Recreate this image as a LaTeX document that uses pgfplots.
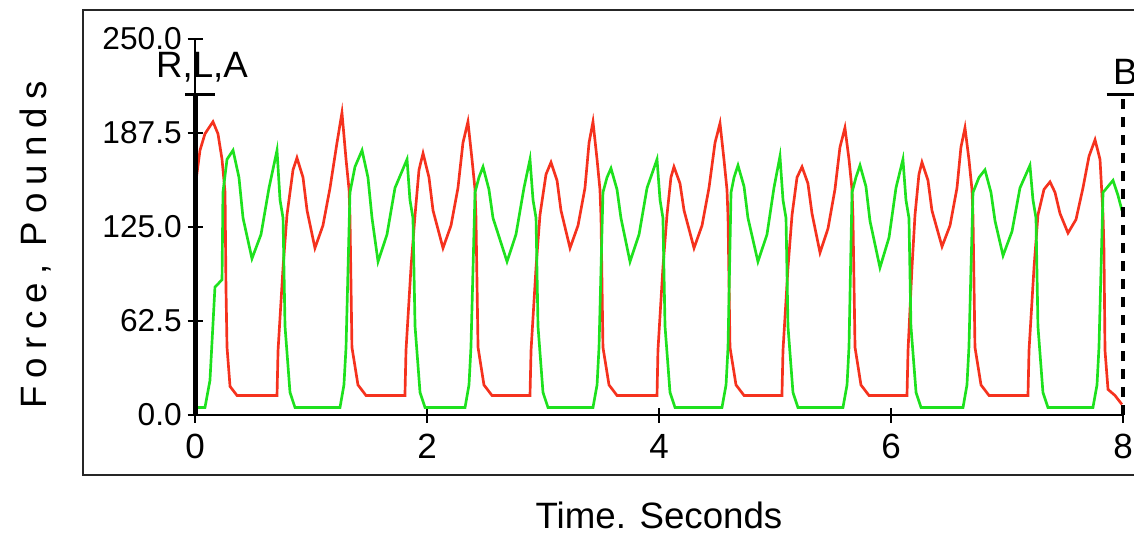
\documentclass[border=0pt]{standalone}
\usepackage{pgfplots}
\pgfplotsset{compat=1.18}
\usepackage{fontspec}
\setmainfont{Liberation Sans}
\definecolor{fred}{RGB}{245,50,30}
\definecolor{fgreen}{RGB}{30,225,30}

\begin{document}
\begin{tikzpicture}
% picture area, 1 px of the reference = 0.3pt
\path[use as bounding box, clip] (0,0) rectangle (340.2pt,161.1pt);
\draw[line width=0.8pt, black!85] (24.9pt,158.1pt) rectangle (343.5pt,18.6pt);
\begin{axis}[
    at={(58.5pt,36.6pt)}, anchor=south west,
    scale only axis,
    width=278.4pt, height=112.8pt,
    xmin=0, xmax=8, ymin=0, ymax=250,
    axis lines*=left,
    axis line style={line width=0.8pt, black},
    xtick={0,2,4,6,8},
    ytick={0,62.5,125,187.5,250},
    yticklabels={0.0,62.5,125.0,187.5,250.0},
    tick align=center,
    major tick length=4.5pt,
    tick style={line width=0.6pt, black},
    /pgf/number format/assume math mode=true,
    xticklabel style={font=\fontsize{10.5}{12}\selectfont},
    yticklabel style={font=\fontsize{9.5}{11}\selectfont, xshift=1.8pt},
    xlabel={Time. Seconds},
    ylabel={Force, Pounds},
    xlabel style={at={(axis description cs:0.5,-0.266)}, anchor=center, font=\fontsize{11}{13}\selectfont},
    ylabel style={at={(axis description cs:-0.172,0.452)}, anchor=center, font=\fontsize{11}{13}\selectfont\addfontfeature{LetterSpace=22}},
    clip=false,
]
% red trace
\addplot[fred, line width=0.8pt, mark=none] coordinates {
(0.009,156) (0.043,176) (0.086,187) (0.155,195) (0.198,187) (0.233,170) (0.259,148) (0.267,85) (0.276,45) (0.302,19) (0.362,13)
(0.707,13) (0.716,43) (0.759,98) (0.793,133) (0.845,163) (0.879,171) (0.931,158) (0.966,136) (1.034,111) (1.103,126) (1.164,151) (1.224,181) (1.267,201) (1.302,170) (1.328,150) (1.336,132) (1.353,45) (1.405,20) (1.474,13)
(1.810,13) (1.819,43) (1.862,98) (1.897,133) (1.931,163) (1.966,174) (2.017,158) (2.052,136) (2.138,111) (2.207,126) (2.267,151) (2.310,181) (2.353,195) (2.388,170) (2.414,150) (2.422,132) (2.440,45) (2.491,20) (2.560,13)
(2.888,13) (2.897,43) (2.940,98) (2.974,133) (3.026,160) (3.069,168) (3.121,156) (3.155,136) (3.233,111) (3.302,126) (3.362,151) (3.397,181) (3.431,195) (3.466,170) (3.491,150) (3.500,132) (3.517,45) (3.569,20) (3.638,13)
(3.983,13) (3.991,43) (4.034,98) (4.069,133) (4.103,158) (4.129,165) (4.181,154) (4.216,136) (4.302,111) (4.371,126) (4.431,151) (4.483,181) (4.526,194) (4.560,170) (4.586,150) (4.595,132) (4.612,45) (4.664,20) (4.733,13)
(5.060,13) (5.069,43) (5.112,98) (5.147,133) (5.190,158) (5.233,165) (5.284,154) (5.319,134) (5.388,108) (5.457,124) (5.517,150) (5.560,178) (5.603,191) (5.638,170) (5.664,150) (5.672,132) (5.690,45) (5.741,20) (5.810,13)
(6.138,13) (6.147,43) (6.181,98) (6.207,133) (6.241,160) (6.267,168) (6.319,156) (6.353,136) (6.440,112) (6.509,126) (6.569,151) (6.603,178) (6.638,191) (6.672,170) (6.698,150) (6.707,132) (6.724,45) (6.776,20) (6.845,13)
(7.181,13) (7.190,43) (7.233,98) (7.267,133) (7.319,150) (7.371,155) (7.414,148) (7.457,134) (7.526,121) (7.595,130) (7.655,151) (7.707,172) (7.759,183) (7.802,170) (7.828,133) (7.836,110) (7.845,43) (7.871,17) (7.931,13) (7.991,7)
};
% green trace
\addplot[fgreen, line width=0.8pt, mark=none] coordinates {
(0.000,5) (0.086,5) (0.129,23) (0.172,85) (0.233,90) (0.241,148) (0.276,170) (0.328,176) (0.379,158) (0.414,131) (0.491,104) (0.569,120) (0.638,151) (0.707,176) (0.733,143) (0.759,131) (0.776,59) (0.819,15) (0.862,5)
(1.250,5) (1.284,20) (1.302,45) (1.336,148) (1.379,165) (1.440,176) (1.491,158) (1.526,131) (1.578,102) (1.655,120) (1.724,151) (1.828,170) (1.853,143) (1.879,131) (1.897,59) (1.940,15) (1.983,5)
(2.328,5) (2.362,20) (2.379,45) (2.414,148) (2.448,158) (2.483,165) (2.534,150) (2.569,131) (2.690,102) (2.767,120) (2.836,151) (2.888,170) (2.914,143) (2.940,131) (2.957,59) (3.000,15) (3.043,5)
(3.431,5) (3.466,20) (3.483,45) (3.517,148) (3.552,158) (3.586,164) (3.638,150) (3.672,131) (3.750,102) (3.828,120) (3.897,151) (3.983,170) (4.009,143) (4.034,131) (4.052,59) (4.095,15) (4.138,5)
(4.543,5) (4.578,20) (4.595,45) (4.621,148) (4.647,158) (4.681,166) (4.733,152) (4.767,131) (4.853,102) (4.931,120) (4.991,151) (5.043,172) (5.069,143) (5.095,131) (5.112,59) (5.155,15) (5.198,5)
(5.586,5) (5.621,20) (5.638,45) (5.664,148) (5.698,158) (5.733,166) (5.784,152) (5.819,129) (5.905,98) (5.983,118) (6.043,151) (6.103,170) (6.129,143) (6.155,131) (6.172,59) (6.216,15) (6.259,5)
(6.621,5) (6.655,20) (6.672,45) (6.707,148) (6.759,158) (6.810,163) (6.862,148) (6.897,129) (6.966,106) (7.043,122) (7.112,151) (7.198,166) (7.224,143) (7.250,131) (7.267,59) (7.310,15) (7.353,5)
(7.741,5) (7.776,20) (7.793,45) (7.828,148) (7.871,152) (7.914,156) (7.957,146) (7.991,136)
};
% cursor A (solid) and cursor B (dashed)
\draw[line width=1.5pt, black] (axis cs:0,0) -- (axis cs:0,213);
\draw[line width=0.7pt, black] (axis cs:-0.086,213) -- (axis cs:0.172,213);
\node[font=\fontsize{11}{13}\selectfont] at (axis cs:0.06,231) {R,L,A};
\draw[line width=1pt, black, dash pattern=on 3pt off 2.4pt] (axis cs:8,0) -- (axis cs:8,213);
\draw[line width=0.7pt, black] (axis cs:7.86,213) -- (axis cs:8.2,213);
\node[font=\fontsize{11}{13}\selectfont] at (axis cs:8.02,228) {B};
\end{axis}
\end{tikzpicture}
\end{document}
